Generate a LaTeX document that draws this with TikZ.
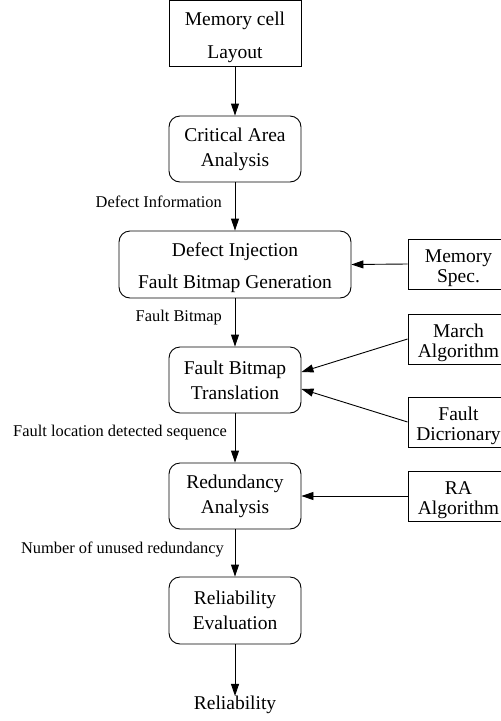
\documentclass[tikz,border=0pt]{standalone}
\usepackage{fontspec}
\setmainfont{Liberation Serif}
\usetikzlibrary{arrows.meta}
\tikzset{
  mainbox/.style={draw, line width=0.9pt, minimum width=132pt, minimum height=66pt, inner sep=0pt},
  roundbox/.style={mainbox, rounded corners=11pt},
  sidebox/.style={draw, line width=0.9pt, minimum width=101pt, minimum height=50pt, inner sep=0pt},
  boxtext/.style={inner sep=0pt, align=center, font=\fontsize{19.5}{25}\selectfont},
  sidetext/.style={inner sep=0pt, align=center, font=\fontsize{19.5}{19.5}\selectfont, yshift=-4pt},
  lbl/.style={inner sep=0pt, anchor=east, font=\fontsize{16.4}{18}\selectfont},
  flow/.style={line width=0.9pt, -{Triangle[length=12pt,width=8pt]}}
}
\begin{document}
\begin{tikzpicture}[x=1pt,y=-1pt]
\clip (0,0) rectangle (501,721);
\node[mainbox, label={[boxtext, name=mct, font=\fontsize{19.5}{33}\selectfont, yshift=-4pt]center:Memory cell\\Layout}] (mc) at (235,33) {};
\node[roundbox, label={[boxtext, name=cat]center:Critical Area\\Analysis}] (ca) at (235,149) {};
\node[roundbox, minimum width=232pt, minimum height=67pt, label={[boxtext, name=dit, font=\fontsize{19.5}{32}\selectfont, yshift=-3.5pt]center:Defect Injection\\Fault Bitmap Generation}] (di) at (235,264.5) {};
\node[roundbox, label={[boxtext, name=fbtt]center:Fault Bitmap\\Translation}] (fbt) at (235,380) {};
\node[roundbox, label={[boxtext, name=rat]center:Redundancy\\Analysis}] (ra) at (235,496) {};
\node[roundbox, minimum height=67pt, label={[boxtext, name=ret]center:Reliability\\Evaluation}] (re) at (235,610.5) {};
\node[inner sep=0pt, font=\fontsize{19.5}{24}\selectfont] (rel) at (235,705) {Reliability};

\node[sidebox, label={[sidetext, name=mst]center:Memory\\Spec.}] (ms) at (458.5,264) {};
\node[sidebox, label={[sidetext, name=mat]center:March\\Algorithm}] (ma) at (458.5,339) {};
\node[sidebox, label={[sidetext, name=fdt]center:Fault\\Dicrionary}] (fd) at (458.5,422) {};
\node[sidebox, label={[sidetext, name=raat]center:RA\\Algorithm}] (raa) at (458.5,496) {};

\node[lbl] (l1) at (222,202) {Defect Information};
\node[lbl] (l2) at (222,318) {Fault Bitmap};
\node[lbl] (l3) at (227,433) {Fault location detected sequence};
\node[lbl] (l4) at (224,549) {Number of unused redundancy};

\draw[flow] (mc) -- (ca);
\draw[flow] (ca) -- (di);
\draw[flow] (di) -- (fbt);
\draw[flow] (fbt) -- (ra);
\draw[flow] (ra) -- (re);
\draw[flow] (re) -- (rel.north);
\draw[flow] (ms.west) -- (di.east);
\draw[flow] (ma.west) -- ([yshift=8pt]fbt.east);
\draw[flow] (fd.west) -- ([yshift=-9pt]fbt.east);
\draw[flow] (raa.west) -- (ra.east);
\end{tikzpicture}
\end{document}
